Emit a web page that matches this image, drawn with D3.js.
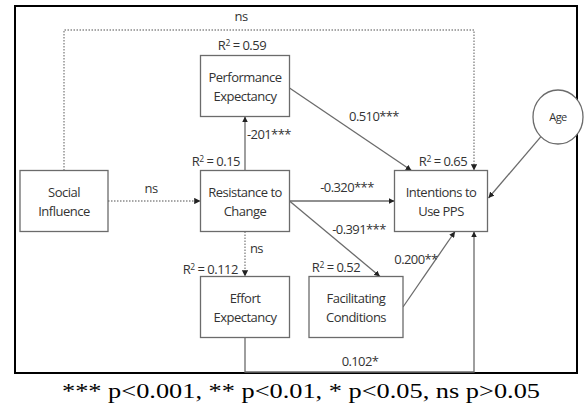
<!DOCTYPE html>
<html>
<head>
<meta charset="utf-8">
<script src="https://cdn.jsdelivr.net/npm/d3@7"></script>
<style>
  body { margin: 0; background: #fff; }
  svg { display: block; }
</style>
</head>
<body>
<div id="vis"></div>
<script>
// constructs in the model
const nodeIds = ["SI", "RC", "PE", "EE", "FC", "IU", "AGE"];
const nodeLabels = [
  ["Social", "Influence"],
  ["Resistance to", "Change"],
  ["Performance", "Expectancy"],
  ["Effort", "Expectancy"],
  ["Facilitating", "Conditions"],
  ["Intentions to", "Use PPS"],
  ["Age"]
];
const rSquared = [null, "0.15", "0.59", "0.112", "0.52", "0.65", null];

// paths: source, target, coefficient, significant?
const edgeFrom = ["SI", "SI", "RC", "RC", "RC", "RC", "PE", "FC", "EE", "AGE"];
const edgeTo   = ["IU", "RC", "PE", "IU", "FC", "EE", "IU", "IU", "IU", "IU"];
const edgeCoef = ["ns", "ns", "-201***", "-0.320***", "-0.391***", "ns", "0.510***", "0.200**", "0.102*", ""];
const edgeSig  = [false, false, true, true, true, false, true, true, true, true];

const footnote = "*** p<0.001, ** p<0.01, * p<0.05, ns p>0.05";

function renderDiagram() {
  const width = 588, height = 406;
  const labelFont = "13px 'Open Sans', sans-serif";

  // grid of the layout (column / row per construct)
  const col = d3.scaleOrdinal()
    .domain(["c0", "c1", "c2", "c3", "c4"])
    .range([64, 245, 356, 441, 558]);
  const row = d3.scaleOrdinal()
    .domain(["top", "mid", "bot", "age"])
    .range([86, 201, 307, 117]);

  const place = {
    SI: ["c0", "mid"], RC: ["c1", "mid"], PE: ["c1", "top"],
    EE: ["c1", "bot"], FC: ["c2", "bot"], IU: ["c3", "mid"], AGE: ["c4", "age"]
  };
  const boxW = { SI: 88, RC: 89, PE: 89, EE: 89, FC: 94, IU: 93 };
  const boxH = 61;

  const nodes = nodeIds.map((id, i) => {
    const cx = col(place[id][0]), cy = row(place[id][1]);
    const w = boxW[id] || 0;
    return { id, label: nodeLabels[i], r2: rSquared[i], cx, cy,
      x0: cx - w / 2, x1: cx + w / 2, y0: cy - boxH / 2, y1: cy + boxH / 2, circle: id === "AGE" };
  });
  const N = Object.fromEntries(nodes.map(d => [d.id, d]));

  const svg = d3.select("#vis").append("svg")
    .attr("width", width).attr("height", height);

  svg.append("defs").append("marker")
    .attr("id", "arr")
    .attr("viewBox", "0 0 6 6")
    .attr("refX", 6).attr("refY", 3)
    .attr("markerWidth", 4.5).attr("markerHeight", 4.5)
    .attr("orient", "auto")
    .append("path").attr("d", "M0,0L6,3L0,6Z").attr("fill", "#222");

  // outer frame
  svg.append("rect")
    .attr("x", 15).attr("y", 6).attr("width", 562).attr("height", 367)
    .attr("fill", "none").attr("stroke", "#000").attr("stroke-width", 2);

  // route of each path
  function route(e) {
    const s = N[e.from], t = N[e.to];
    const key = e.from + e.to;
    const topY = 30, botY = 372, rightX = 474;
    switch (key) {
      case "SIIU": return [[s.cx, s.y0], [s.cx, topY], [rightX, topY], [rightX, t.y0]];
      case "SIRC": return [[s.x1, s.cy], [t.x0, t.cy]];
      case "RCPE": return [[s.cx, s.y0], [t.cx, t.y1]];
      case "RCIU": return [[s.x1, s.cy], [t.x0, t.cy]];
      case "RCFC": return [[s.x1, s.cy], [t.cx + 24, t.y0]];
      case "RCEE": return [[s.cx, s.y1], [t.cx, t.y0]];
      case "PEIU": return [[s.x1, s.cy + 2], [t.x0 + 17, t.y0]];
      case "FCIU": return [[s.x1, s.cy], [t.cx + 14, t.y1]];
      case "EEIU": return [[s.cx, s.y1], [s.cx, botY], [rightX, botY], [rightX, t.y1]];
      case "AGEIU": {
        const a = Math.atan2(t.cy - 3 - s.cy, t.x1 - s.cx);
        return [[s.cx + 26 * Math.cos(a), s.cy + 26 * Math.sin(a)], [t.x1 + 1, t.cy - 3]];
      }
    }
  }

  const edges = edgeFrom.map((f, i) => ({ from: f, to: edgeTo[i], coef: edgeCoef[i], sig: edgeSig[i] }));

  svg.append("g")
    .selectAll("path")
    .data(edges)
    .join("path")
    .attr("d", d => d3.line()(route(d)))
    .attr("fill", "none")
    .attr("stroke", d => d.sig ? "#6b6b6b" : "#8a8a8a")
    .attr("stroke-width", d => d.sig ? 1.3 : 1.4)
    .attr("stroke-dasharray", d => d.sig ? null : "1.5,1.5")
    .attr("marker-end", "url(#arr)");

  // coefficient labels
  const coefPos = {
    SIIU: [241, 21, "middle"], SIRC: [151, 193, "middle"], RCPE: [247, 139, "start"],
    RCIU: [347, 192, "middle"], RCFC: [359, 234, "middle"], RCEE: [250, 253, "start"],
    PEIU: [374, 121, "middle"], FCIU: [416, 264, "middle"], EEIU: [360, 366, "middle"]
  };
  svg.append("g")
    .style("font", labelFont)
    .attr("fill", "#333")
    .selectAll("text")
    .data(edges.filter(d => d.coef))
    .join("text")
    .attr("x", d => coefPos[d.from + d.to][0])
    .attr("y", d => coefPos[d.from + d.to][1])
    .attr("text-anchor", d => coefPos[d.from + d.to][2])
    .attr("letter-spacing", "-0.6")
    .text(d => d.coef);

  // boxes
  const box = svg.append("g").selectAll("g")
    .data(nodes)
    .join("g");

  box.filter(d => !d.circle).append("rect")
    .attr("x", d => d.x0).attr("y", d => d.y0)
    .attr("width", d => d.x1 - d.x0).attr("height", boxH)
    .attr("fill", "#fff").attr("stroke", "#6b6b6b").attr("stroke-width", 1.3);

  box.filter(d => d.circle).append("ellipse")
    .attr("cx", d => d.cx).attr("cy", d => d.cy)
    .attr("rx", 25).attr("ry", 27)
    .attr("fill", "#fff").attr("stroke", "#6b6b6b").attr("stroke-width", 1.3);

  box.append("text")
    .style("font", d => d.circle ? "11px 'Open Sans', sans-serif" : labelFont)
    .attr("fill", "#333")
    .attr("text-anchor", "middle")
    .attr("letter-spacing", d => d.circle ? "-0.6" : "-0.5")
    .selectAll("tspan")
    .data(d => d.label.map((l, i) => ({ l, i, n: d.label.length, d })))
    .join("tspan")
    .attr("x", d => d.d.cx)
    .attr("y", d => d.d.cy + (d.d.circle ? 4 : 5.5) + (d.i - (d.n - 1) / 2) * 19)
    .text(d => d.l);

  // R² labels
  const r2Pos = {
    RC: [240, 166, "end"], PE: [242, 50, "middle"], EE: [238, 274, "end"],
    FC: [336, 272, "middle"], IU: [443, 166, "middle"]
  };
  const r2 = svg.append("g")
    .style("font", labelFont)
    .attr("fill", "#333")
    .selectAll("text")
    .data(nodes.filter(d => d.r2))
    .join("text")
    .attr("x", d => r2Pos[d.id][0])
    .attr("y", d => r2Pos[d.id][1])
    .attr("text-anchor", d => r2Pos[d.id][2])
    .attr("letter-spacing", "-0.5");
  r2.append("tspan").text("R");
  r2.append("tspan").attr("dy", -4).style("font-size", "8.5px").text("2");
  r2.append("tspan").attr("dy", 4).text(d => " = " + d.r2);

  // footnote, stretched horizontally like the source image
  svg.append("text")
    .attr("x", 62).attr("y", 398)
    .attr("textLength", 478)
    .attr("lengthAdjust", "spacingAndGlyphs")
    .style("font", "22px 'Liberation Serif', 'Times New Roman', serif")
    .attr("fill", "#000")
    .text(footnote);
}

renderDiagram();
</script>
</body>
</html>
